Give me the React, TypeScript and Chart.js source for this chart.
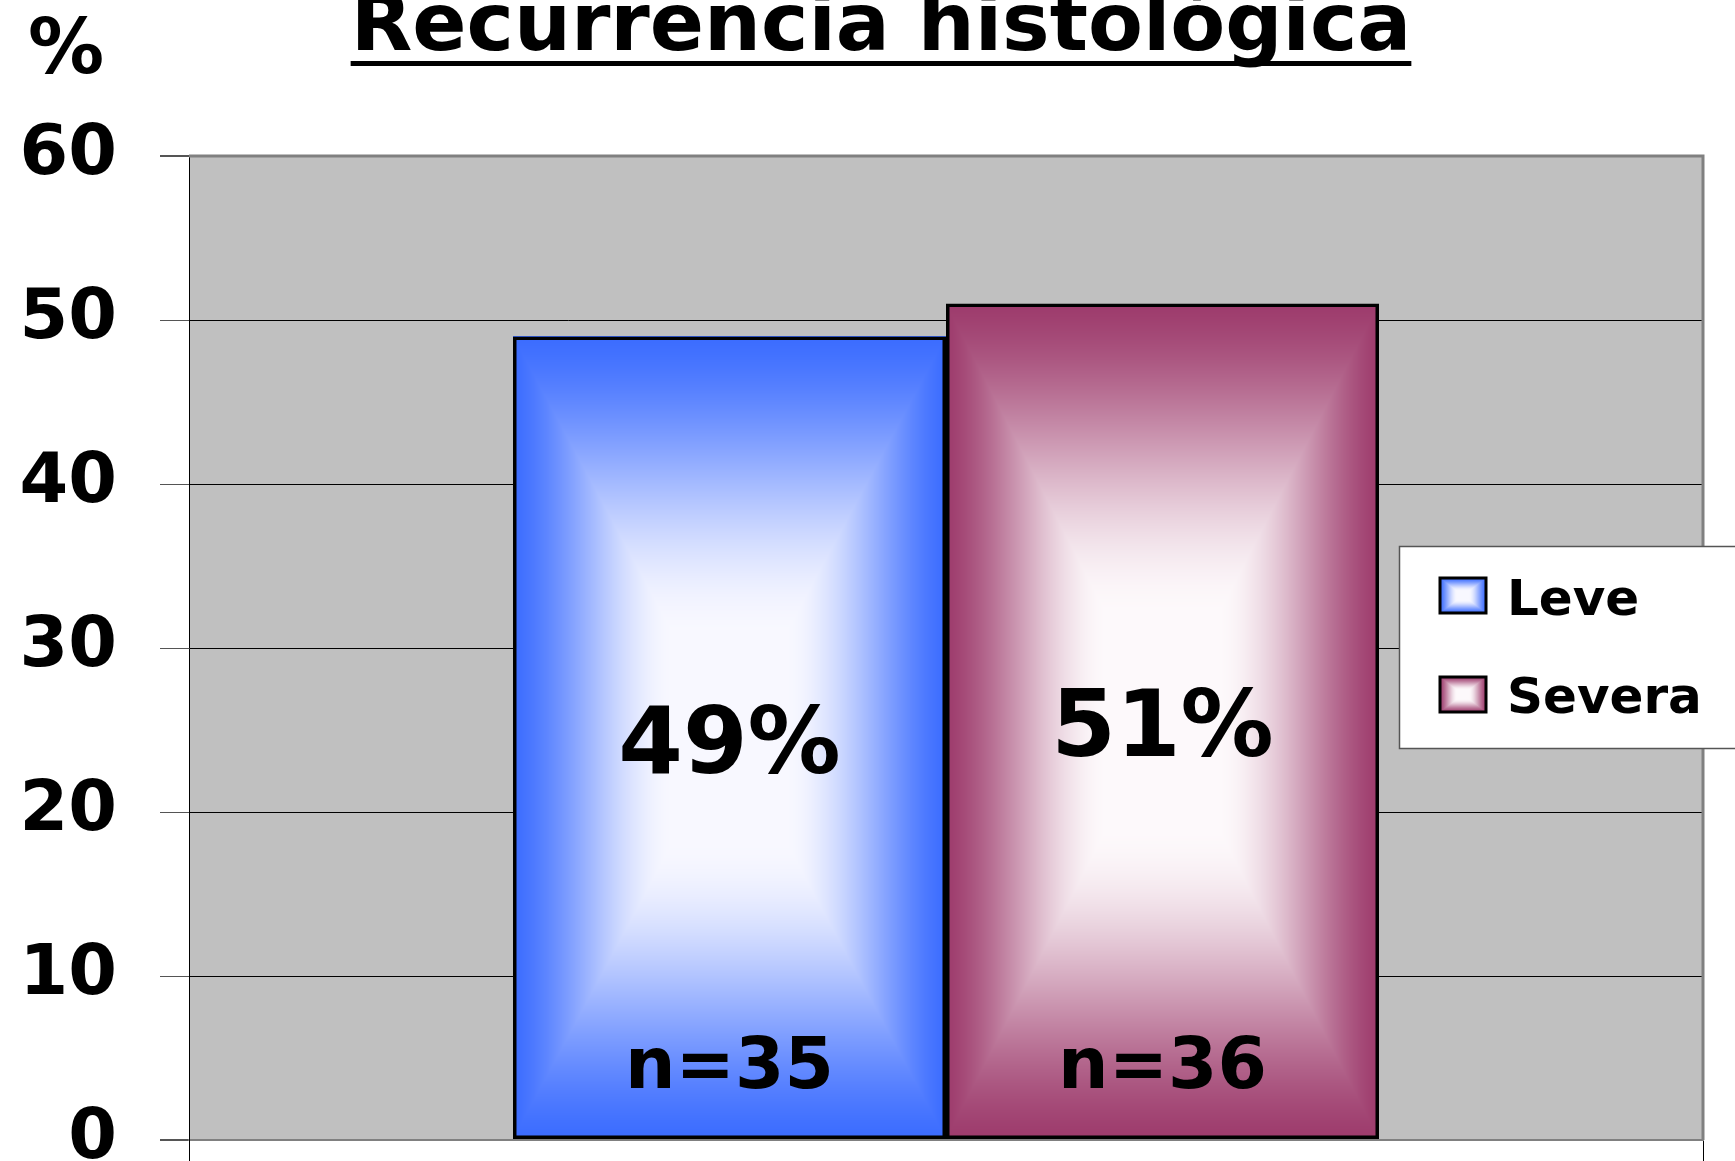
import React, { useEffect, useRef } from 'react';
import { Chart, registerables } from 'chart.js';

Chart.register(...registerables);

// ---- data ----
const categories = [''];
const seriesNames = ['Leve', 'Severa'];
const leveValues = [49];
const severaValues = [51];
const percentLabels = ['49%', '51%'];
const nLabels = ['n=35', 'n=36'];
const yTicks = [0, 10, 20, 30, 40, 50, 60];
const titleText = 'Recurrencia histológica';
const yAxisLabel = '%';

// ---- styles ----
const edgeColors = ['#3366FF', '#993366'];
const centerColors = ['#F8F8FF', '#FDF9FB'];
const FONT = '"DejaVu Sans", "Noto Sans", sans-serif';

function hexToRgb(h: string) {
  const v = parseInt(h.slice(1), 16);
  return [(v >> 16) & 255, (v >> 8) & 255, v & 255];
}

function paintRectGradient(ctx: CanvasRenderingContext2D, x0: number, y0: number, wIn: number, hIn: number, edge: string, center: string) {
  const w = Math.round(wIn);
  const h = Math.round(hIn);
  if (w <= 0 || h <= 0) return;
  const off = document.createElement('canvas');
  off.width = w;
  off.height = h;
  const octx = off.getContext('2d')!;
  const img = octx.createImageData(w, h);
  const e = hexToRgb(edge);
  const c = hexToRgb(center);
  const hw = w / 2;
  const hh = h / 2;
  let p = 0;
  for (let y = 0; y < h; y++) {
    const dy = Math.abs(y + 0.5 - hh) / hh;
    for (let x = 0; x < w; x++) {
      const dx = Math.abs(x + 0.5 - hw) / hw;
      const d = Math.max(dx, dy);
      const s = 1 - d;
      const u = Math.max(0, Math.min(1, (s + 0.1) / 0.85));
      const t = u * u * (3 - 2 * u);
      img.data[p++] = e[0] + (c[0] - e[0]) * t;
      img.data[p++] = e[1] + (c[1] - e[1]) * t;
      img.data[p++] = e[2] + (c[2] - e[2]) * t;
      img.data[p++] = 255;
    }
  }
  octx.putImageData(img, 0, 0);
  ctx.drawImage(off, x0, y0);
}

const decorPlugin = {
  id: 'decor',
  beforeDraw(chart: any) {
    const { ctx, chartArea: a } = chart;
    ctx.save();
    ctx.fillStyle = '#C0C0C0';
    ctx.fillRect(a.left, a.top, a.right - a.left, a.bottom - a.top);
    ctx.restore();
  },
  beforeDatasetsDraw(chart: any) {
    const { ctx, chartArea: a } = chart;
    ctx.save();
    // plot frame (top and right)
    ctx.strokeStyle = '#808080';
    ctx.lineWidth = 3;
    ctx.beginPath();
    ctx.moveTo(a.left, a.top);
    ctx.lineTo(a.right, a.top);
    ctx.lineTo(a.right, a.bottom);
    ctx.stroke();
    // gradient bar fills
    chart.data.datasets.forEach((_ds: any, di: number) => {
      const meta = chart.getDatasetMeta(di);
      meta.data.forEach((el: any) => {
        const { x, y, base, width } = el.getProps(['x', 'y', 'base', 'width'], true);
        const left = x - width / 2;
        const top = Math.min(y, base);
        const h = Math.abs(base - y);
        paintRectGradient(ctx, Math.round(left), Math.round(top), width, h, edgeColors[di], centerColors[di]);
      });
    });
    ctx.restore();
  },
  afterDatasetsDraw(chart: any) {
    const { ctx } = chart;
    ctx.save();
    ctx.fillStyle = '#000';
    ctx.textAlign = 'center';
    ctx.textBaseline = 'middle';
    chart.data.datasets.forEach((_ds: any, di: number) => {
      const meta = chart.getDatasetMeta(di);
      meta.data.forEach((el: any) => {
        const { x, y, base } = el.getProps(['x', 'y', 'base'], true);
        ctx.font = `bold 93px ${FONT}`;
        ctx.fillText(percentLabels[di], x, (y + base) / 2 + 11);
        ctx.font = `bold 71px ${FONT}`;
        ctx.fillText(nLabels[di], x, base - 69);
      });
    });
    ctx.restore();
  },
  afterDraw(chart: any) {
    const { ctx, chartArea: a } = chart;
    ctx.save();
    // title with underline
    ctx.fillStyle = '#000';
    ctx.font = `bold 80px ${FONT}`;
    ctx.textAlign = 'center';
    ctx.textBaseline = 'alphabetic';
    const tx = 881;
    ctx.fillText(titleText, tx, 50);
    const tw = ctx.measureText(titleText).width;
    ctx.fillRect(tx - tw / 2, 61, tw, 5);
    // y axis label
    ctx.font = `bold 76px ${FONT}`;
    ctx.fillText(yAxisLabel, 66, 73);

    // legend
    const bx = a.right - 304;
    const by = a.top + 390;
    const bw = 400;
    const bh = 202;
    ctx.fillStyle = '#FFFFFF';
    ctx.fillRect(bx, by, bw, bh);
    ctx.strokeStyle = '#555';
    ctx.lineWidth = 1.5;
    ctx.strokeRect(bx + 0.5, by + 0.5, bw, bh);
    chart.data.datasets.forEach((ds: any, di: number) => {
      const sx = bx + 41;
      const sy = by + 32 + di * 99;
      paintRectGradient(ctx, sx, sy, 46, 35, edgeColors[di], centerColors[di]);
      ctx.strokeStyle = '#000';
      ctx.lineWidth = 3;
      ctx.strokeRect(sx, sy, 46, 35);
      ctx.fillStyle = '#000';
      ctx.font = `bold 50px ${FONT}`;
      ctx.textAlign = 'left';
      ctx.textBaseline = 'alphabetic';
      ctx.fillText(ds.label, bx + 108, by + 69 + di * 98);
    });
    ctx.restore();
  },
};

export default function App() {
  const ref = useRef<HTMLCanvasElement | null>(null);

  useEffect(() => {
    if (!ref.current) return;
    const chart = new Chart(ref.current, {
      type: 'bar',
      data: {
        labels: categories,
        datasets: [
          {
            label: seriesNames[0],
            data: leveValues,
            backgroundColor: 'rgba(0,0,0,0)',
            borderColor: '#000',
            borderWidth: 3.5,
            borderSkipped: false,
          },
          {
            label: seriesNames[1],
            data: severaValues,
            backgroundColor: 'rgba(0,0,0,0)',
            borderColor: '#000',
            borderWidth: 3.5,
            borderSkipped: false,
          },
        ],
      },
      options: {
        responsive: false,
        animation: false,
        devicePixelRatio: 1,
        layout: { padding: { top: 156, right: 32, left: 0, bottom: 0 } },
        datasets: { bar: { categoryPercentage: 0.572, barPercentage: 1 } },
        plugins: {
          legend: { display: false },
          tooltip: { enabled: false },
          title: { display: false },
        },
        scales: {
          x: {
            offset: true,
            grid: {
              display: true,
              drawOnChartArea: false,
              drawTicks: true,
              tickLength: 21,
              color: '#000',
              lineWidth: 1,
              offset: true,
            },
            ticks: { display: false },
            border: { display: true, color: '#808080', width: 2 },
            afterFit: (s: any) => {
              s.height = 21;
            },
          },
          y: {
            min: 0,
            max: 60,
            afterBuildTicks: (s: any) => {
              s.ticks = yTicks.map((v) => ({ value: v }));
            },
            ticks: {
              color: '#000',
              padding: 43,
              font: { family: FONT, size: 70, weight: 'bold' },
            },
            grid: {
              color: (c: any) => (c.tick && (c.tick.value === 0 || c.tick.value === 60) ? '#808080' : '#000'),
              lineWidth: (c: any) => (c.tick && (c.tick.value === 0 || c.tick.value === 60) ? 2 : 1),
              tickColor: '#555',
              tickLength: 29,
              drawTicks: true,
            },
            border: { display: true, color: '#000', width: 1 },
            afterFit: (s: any) => {
              s.width = 189;
              s.paddingTop = 0;
              s.paddingBottom = 0;
            },
          },
        },
      } as any,
      plugins: [decorPlugin],
    });
    return () => chart.destroy();
  }, []);

  return (
    <div style={{ position: 'fixed', left: 0, top: 0, width: 1735, height: 1161, background: '#fff' }}>
      <canvas ref={ref} width={1735} height={1161} style={{ display: 'block' }} />
    </div>
  );
}
